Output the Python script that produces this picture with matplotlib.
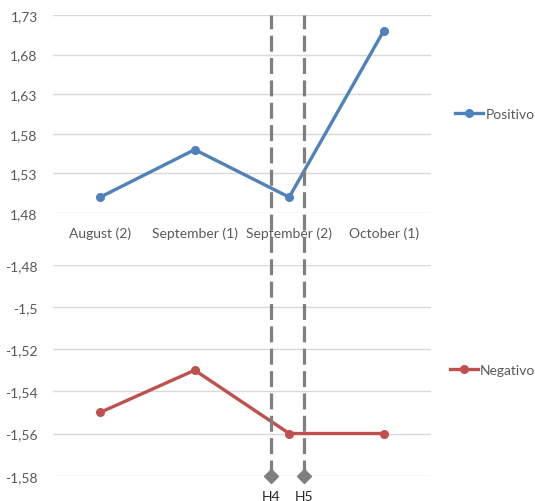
import matplotlib.pyplot as plt
from matplotlib.ticker import FixedLocator, FuncFormatter

plt.rcParams['font.family'] = ['Lato', 'DejaVu Sans']

categories = ['August (2)', 'September (1)', 'September (2)', 'October (1)']
positivo = [1.50, 1.56, 1.50, 1.71]
negativo = [-1.55, -1.53, -1.56, -1.56]

pos_ticks = [1.48, 1.53, 1.58, 1.63, 1.68, 1.73]
neg_ticks = [-1.58, -1.56, -1.54, -1.52, -1.5, -1.48]

# positions of the H markers along the category axis
h_names = ['H4', 'H5']
h_pos = [1.81, 2.16]

blue = '#4F81BD'
red = '#C0504D'
grid_c = '#D9D9D9'
text_c = '#595959'
dash_c = '#7F7F7F'


def comma(v, pos=None):
    return ('%g' % v).replace('.', ',')


def style(ax, ticks):
    for s in ax.spines.values():
        s.set_visible(False)
    ax.yaxis.set_major_locator(FixedLocator(ticks))
    ax.yaxis.set_major_formatter(FuncFormatter(comma))
    ax.set_ylim(min(ticks), max(ticks))
    ax.set_xlim(-0.5, len(categories) - 0.5)
    ax.grid(axis='y', color=grid_c, lw=1.0)
    ax.set_axisbelow(True)
    ax.tick_params(axis='both', length=0, colors=text_c, labelsize=10)
    ax.tick_params(axis='y', pad=11)


fig = plt.figure(figsize=(5.35, 5.02), dpi=100)
left, width = 0.099, 0.7065
ax1 = fig.add_axes([left, 0.5737, width, 0.3944])
ax2 = fig.add_axes([left, 0.0504, width, 0.4203])

x = list(range(len(categories)))

ax1.plot(x, positivo, color=blue, lw=2.4, marker='o', ms=5.5, label='Positivo')
style(ax1, pos_ticks)
ax1.set_xticks(x)
ax1.set_xticklabels(categories)
ax1.tick_params(axis='x', pad=10)

ax2.plot(x, negativo, color=red, lw=2.4, marker='o', ms=5.5, label='Negativo')
style(ax2, neg_ticks)
ax2.set_xticks([])

# dashed H lines run across both panels
top = 0.9681
bottom = 0.0504
ov = fig.add_axes([left, bottom, width, top - bottom])
ov.set_xlim(-0.5, len(categories) - 0.5)
ov.set_ylim(0, 1)
ov.axis('off')
ov.patch.set_alpha(0)
for name, hx in zip(h_names, h_pos):
    ov.plot([hx, hx], [0, 1], color=dash_c, lw=2.3, dashes=(5, 2), clip_on=False)
    ov.plot([hx], [0], marker='D', color=dash_c, ms=7, clip_on=False)
    ov.text(hx, -0.03, name, ha='center', va='top', fontsize=10, color='#262626')

leg_kw = dict(frameon=False, loc='center left', fontsize=10, handlelength=2.0,
              handletextpad=0.15, labelcolor=text_c, borderaxespad=0)
ax1.legend(bbox_to_anchor=(1.05, 0.5), **leg_kw)
ax2.legend(bbox_to_anchor=(1.035, 0.5), **leg_kw)

fig.savefig('out.png', dpi=100)
